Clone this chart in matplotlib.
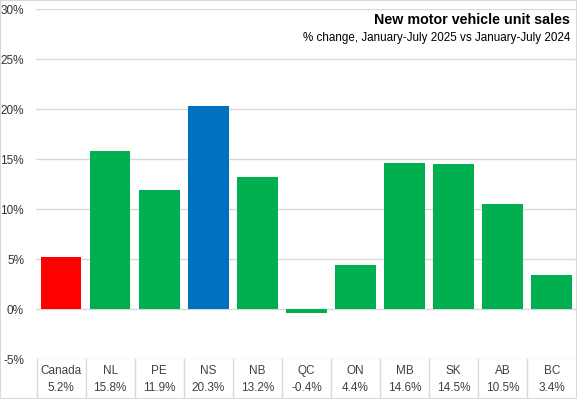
import matplotlib.pyplot as plt
from matplotlib.patches import Rectangle

# data
regions = ["Canada", "NL", "PE", "NS", "NB", "QC", "ON", "MB", "SK", "AB", "BC"]
pct_change = [5.2, 15.8, 11.9, 20.3, 13.2, -0.4, 4.4, 14.6, 14.5, 10.5, 3.4]
bar_colors = ["#FF0000", "#00B050", "#00B050", "#0070C0", "#00B050", "#00B050",
              "#00B050", "#00B050", "#00B050", "#00B050", "#00B050"]
y_ticks = [-5, 0, 5, 10, 15, 20, 25, 30]

plt.rcParams['font.family'] = ['Liberation Sans', 'DejaVu Sans']
W, H = 577, 399
fig = plt.figure(figsize=(W / 100, H / 100), dpi=100)

ax = fig.add_axes([36.5 / W, 1 - 359.3 / H, (576.3 - 36.5) / W, (359.3 - 9.3) / H])
x = list(range(len(regions)))
ax.bar(x, pct_change, width=0.83, color=bar_colors, zorder=3)
ax.set_xlim(-0.5, len(regions) - 0.5)
ax.set_ylim(-5, 30)
ax.set_yticks(y_ticks)
ax.set_yticklabels([f"{t}%" for t in y_ticks], fontsize=8.5, color="#333333")
ax.tick_params(axis='y', length=0, pad=9)
ax.set_xticks([])
ax.grid(axis='y', color="#D9D9D9", linewidth=1, zorder=0)
for s in ax.spines.values():
    s.set_visible(False)

# data table below the plot
tr = ax.get_xaxis_transform()
for i, (r, v) in enumerate(zip(regions, pct_change)):
    ax.text(i, -0.034, r, transform=tr, ha='center', va='center',
            fontsize=8.5, color="#404040", clip_on=False)
    ax.text(i, -0.083, f"{v:.1f}%", transform=tr, ha='center', va='center',
            fontsize=8.5, color="#404040", clip_on=False)
for i in range(len(regions)):
    ax.plot([i - 0.5, i - 0.5], [0, -0.11], transform=tr, color="#D9D9D9",
            linewidth=1, clip_on=False)

# title
fig.text(570 / W, 1 - 20 / H, "New motor vehicle unit sales", ha='right', va='center',
         fontsize=10.3, fontweight='bold', color="#000000")
fig.text(570 / W, 1 - 38 / H, "% change, January-July 2025 vs January-July 2024",
         ha='right', va='center', fontsize=8.4, color="#000000")

# outer border
fig.patches.append(Rectangle((0, 0), 1, 1, transform=fig.transFigure, fill=False,
                             edgecolor="#D9D9D9", linewidth=1.5))

fig.savefig("out.png", dpi=100)
